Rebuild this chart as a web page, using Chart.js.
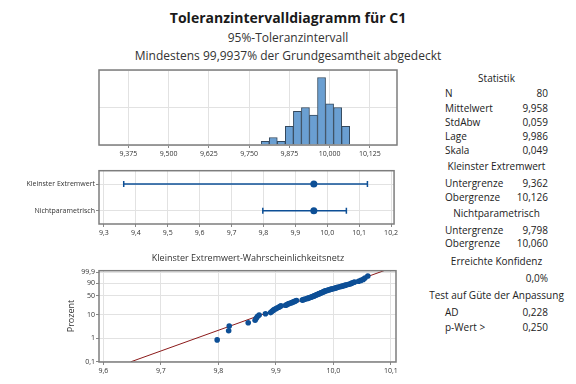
<!DOCTYPE html>
<html>
<head>
<meta charset="utf-8">
<script src="https://cdn.jsdelivr.net/npm/chart.js@4"></script>
<style>
  body { margin: 0; background: #fff; }
  #page { position: relative; width: 576px; height: 384px; background: #fff; font-family: "Open Sans", sans-serif; color: #333; overflow: hidden; }
  #page canvas { position: absolute; left: 0; }
  .t { position: absolute; white-space: nowrap; line-height: 14px; height: 14px; }
  .c { text-align: center; }
  .stat { font-size: 10px; color: #222; }
  .lab { left: 445px; }
  .val { right: 28px; text-align: right; }
  .head { left: 421px; width: 151px; text-align: center; }
</style>
</head>
<body>
<div id="page">
  <div class="t c" style="left:0;width:576px;top:11px;font-size:14px;font-weight:bold;color:#1a1a1a;">Toleranzintervalldiagramm für C1</div>
  <div class="t c" style="left:0;width:576px;top:31px;font-size:12px;">95%-Toleranzintervall</div>
  <div class="t c" style="left:0;width:576px;top:49px;font-size:12px;">Mindestens 99,9937% der Grundgesamtheit abgedeckt</div>

  <canvas id="histChart" width="400" height="100" style="top:60px"></canvas>
  <canvas id="intervalChart" width="400" height="85" style="top:160px"></canvas>
  <canvas id="probChart" width="400" height="140" style="top:245px"></canvas>

  <div class="t c" style="left:99px;width:298px;top:251px;font-size:9px;">Kleinster Extremwert-Wahrscheinlichkeitsnetz</div>
  <div class="t" style="left:44px;top:309px;width:54px;text-align:center;font-size:9px;transform:rotate(-90deg);">Prozent</div>

  <div class="t stat head" style="top:71px">Statistik</div>
  <div class="t stat lab" style="top:86px">N</div><div class="t stat val" style="top:86px">80</div>
  <div class="t stat lab" style="top:101px">Mittelwert</div><div class="t stat val" style="top:101px">9,958</div>
  <div class="t stat lab" style="top:115px">StdAbw</div><div class="t stat val" style="top:115px">0,059</div>
  <div class="t stat lab" style="top:129px">Lage</div><div class="t stat val" style="top:129px">9,986</div>
  <div class="t stat lab" style="top:143px">Skala</div><div class="t stat val" style="top:143px">0,049</div>
  <div class="t stat head" style="top:159px">Kleinster Extremwert</div>
  <div class="t stat lab" style="top:176px">Untergrenze</div><div class="t stat val" style="top:176px">9,362</div>
  <div class="t stat lab" style="top:190px">Obergrenze</div><div class="t stat val" style="top:190px">10,126</div>
  <div class="t stat head" style="top:206px">Nichtparametrisch</div>
  <div class="t stat lab" style="top:223px">Untergrenze</div><div class="t stat val" style="top:223px">9,798</div>
  <div class="t stat lab" style="top:236px">Obergrenze</div><div class="t stat val" style="top:236px">10,060</div>
  <div class="t stat head" style="top:254px">Erreichte Konfidenz</div>
  <div class="t stat val" style="top:271px">0,0%</div>
  <div class="t stat head" style="top:288px">Test auf Güte der Anpassung</div>
  <div class="t stat lab" style="top:305px">AD</div><div class="t stat val" style="top:305px">0,228</div>
  <div class="t stat lab" style="top:320px">p-Wert &gt;</div><div class="t stat val" style="top:320px">0,250</div>
</div>

<script>
// histogram (bins of width 0.025, centred)
const histCenters = [9.800, 9.825, 9.850, 9.875, 9.900, 9.925, 9.950, 9.975, 10.000, 10.025, 10.050];
const histCounts = [1, 2, 1, 5, 9, 10, 8, 18, 11, 10, 5];
const histTicks = [9.375, 9.500, 9.625, 9.750, 9.875, 10.000, 10.125];

// tolerance intervals
const intervalNames = ["Kleinster Extremwert", "Nichtparametrisch"];
const lowerBounds = [9.362, 9.798];
const upperBounds = [10.126, 10.060];
const meanValue = 9.958;
const intervalTicks = [9.3, 9.4, 9.5, 9.6, 9.7, 9.8, 9.9, 10.0, 10.1, 10.2];

// probability plot (sorted data)
const sortedValues = [
    9.798,
    9.818, 9.819,
    9.852,
    9.864, 9.866, 9.868, 9.871, 9.882,
    9.891, 9.893, 9.895, 9.897, 9.900, 9.902, 9.905, 9.907, 9.909,
    9.917, 9.919, 9.921, 9.923, 9.926, 9.928, 9.930, 9.932, 9.934, 9.936,
    9.946, 9.948, 9.950, 9.953, 9.955, 9.957, 9.959, 9.961,
    9.963, 9.964, 9.966, 9.967, 9.969, 9.970, 9.972, 9.973, 9.975, 9.976, 9.977, 9.979, 9.980, 9.981, 9.983, 9.984, 9.985, 9.987,
    9.989, 9.991, 9.993, 9.995, 9.997, 9.999, 10.002, 10.004, 10.006, 10.008, 10.011,
    10.014, 10.016, 10.019, 10.021, 10.024, 10.027, 10.030, 10.032, 10.035, 10.037,
    10.044, 10.048, 10.052, 10.055, 10.060
];
const probPercentTicks = [0.1, 1, 10, 50, 90, 99.9];
const probPercentLabels = ["0,1", "1", "10", "50", "90", "99,9"];
const probXTicks = [9.6, 9.7, 9.8, 9.9, 10.0, 10.1];
const fitLocation = 9.986;
const fitScale = 0.049;

const blue = "#0d4f96";
const gridColor = "#e2e2e2";
const tickFont = { family: "Open Sans", size: 7 };

function comma(v, d) {
    return v.toFixed(d).replace(".", ",");
}

// smallest extreme value probability scale
function sev(p) {
    return Math.log(-Math.log(1 - p));
}

const framePlugin = {
    id: "frame",
    afterDraw(chart) {
        const a = chart.chartArea;
        const ctx = chart.ctx;
        ctx.save();
        ctx.strokeStyle = "#7d7d7d";
        ctx.lineWidth = 1.5;
        ctx.strokeRect(a.left, a.top, a.right - a.left, a.bottom - a.top);
        ctx.restore();
    }
};

function xAxis(min, max, ticks, digits, height) {
    return {
        type: "linear",
        min: min,
        max: max,
        offset: false,
        afterBuildTicks: s => { s.ticks = ticks.map(v => ({ value: v })); },
        afterFit: s => { s.height = height; },
        border: { display: false },
        grid: { color: gridColor, tickColor: "#888", tickLength: 3, offset: false },
        ticks: { callback: v => comma(v, digits), font: tickFont, color: "#333", padding: 2, maxRotation: 0, autoSkip: false }
    };
}

const common = {
    responsive: false,
    animation: false,
    devicePixelRatio: 1,
    plugins: { legend: { display: false }, tooltip: { enabled: false } }
};

// histogram
new Chart(document.getElementById("histChart"), {
    type: "bar",
    data: {
        datasets: [{
            data: histCenters.map((c, i) => ({ x: c, y: histCounts[i] })),
            backgroundColor: "#6a9fd2",
            borderColor: "#34495e",
            borderWidth: 1,
            barPercentage: 1,
            categoryPercentage: 1
        }]
    },
    options: {
        ...common,
        layout: { padding: { top: 10, right: 3, left: 0, bottom: 0 } },
        scales: {
            x: xAxis(9.2835, 10.2095, histTicks, 3, 15),
            y: {
                min: 0, max: 20,
                ticks: { stepSize: 10, display: false },
                afterFit: s => { s.width = 99; },
                border: { display: false },
                grid: { color: gridColor, drawTicks: false }
            }
        }
    },
    plugins: [framePlugin]
});

// tolerance intervals
const intervalSets = intervalNames.map((name, i) => ({
    data: [{ x: lowerBounds[i], y: name }, { x: upperBounds[i], y: name }],
    borderColor: blue,
    borderWidth: 1.5,
    pointStyle: "line",
    rotation: 90,
    pointRadius: 3,
    pointBorderWidth: 1.5,
    pointBorderColor: blue,
    order: 1
}));
intervalSets.push({
    data: intervalNames.map(name => ({ x: meanValue, y: name })),
    showLine: false,
    pointRadius: 3.5,
    pointBackgroundColor: blue,
    pointBorderColor: blue,
    pointBorderWidth: 0,
    order: 0
});

new Chart(document.getElementById("intervalChart"), {
    type: "line",
    data: { datasets: intervalSets },
    options: {
        ...common,
        layout: { padding: { top: 10.7, right: 3, left: 0, bottom: 0 } },
        scales: {
            x: xAxis(9.2845, 10.2095, intervalTicks, 1, 21),
            y: {
                type: "category",
                labels: intervalNames,
                offset: true,
                afterFit: s => { s.width = 99; },
                border: { display: false },
                grid: { color: gridColor, tickColor: "#888", tickLength: 3, offset: false },
                ticks: { font: tickFont, color: "#333", padding: 1 }
            }
        }
    },
    plugins: [framePlugin]
});

// probability plot
const n = sortedValues.length;
const probPoints = sortedValues.map((v, i) => ({ x: v, y: sev((i + 1 - 0.3) / (n + 0.4)) }));
const fitBottom = sev(0.001);
const fitTop = 2.5;
const fitLine = [
    { x: fitLocation + fitScale * fitBottom, y: fitBottom },
    { x: fitLocation + fitScale * fitTop, y: fitTop }
];

new Chart(document.getElementById("probChart"), {
    type: "scatter",
    data: {
        datasets: [
            {
                data: probPoints,
                pointRadius: 2.8,
                pointBackgroundColor: blue,
                pointBorderColor: blue,
                pointBorderWidth: 0,
                order: 0
            },
            {
                data: fitLine,
                showLine: true,
                borderColor: "#8b1a1a",
                borderWidth: 1,
                pointRadius: 0,
                order: 1
            }
        ]
    },
    options: {
        ...common,
        layout: { padding: { top: 25.7, right: 3, left: 0, bottom: 0 } },
        scales: {
            x: xAxis(9.5925, 10.109, probXTicks, 1, 23),
            y: {
                type: "linear",
                min: -6.92,
                max: 2.08,
                afterBuildTicks: s => { s.ticks = probPercentTicks.map(p => ({ value: sev(p / 100) })); },
                afterFit: s => { s.width = 99; },
                border: { display: false },
                grid: { color: gridColor, tickColor: "#888", tickLength: 3 },
                ticks: { callback: (v, i) => probPercentLabels[i], font: tickFont, color: "#333", padding: 1, autoSkip: false }
            }
        }
    },
    plugins: [framePlugin]
});
</script>
</body>
</html>
